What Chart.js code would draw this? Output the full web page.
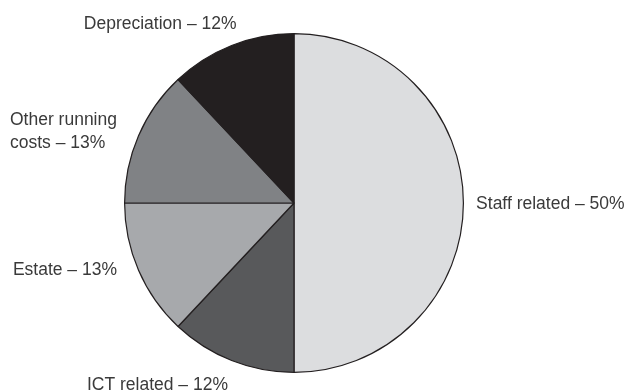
<!DOCTYPE html>
<html>
<head>
<meta charset="utf-8">
<script src="https://cdn.jsdelivr.net/npm/chart.js@4"></script>
<style>
  html, body { margin: 0; padding: 0; background: #fff; }
  #wrap { width: 627px; height: 390px; }
</style>
</head>
<body>
<div id="wrap"><canvas id="myChart" width="627" height="390"></canvas></div>
<script>
// categories, clockwise from 12 o'clock
const categories = ['Staff related', 'ICT related', 'Estate', 'Other running costs', 'Depreciation'];
const shares = [50, 12, 13, 13, 12];
const sliceColors = ['#dcdddf', '#58595b', '#a7a9ac', '#808285', '#231f20'];
// label text as drawn (line breaks as in the original)
const labelLines = [
    ['Staff related – 50%'],
    ['ICT related – 12%'],
    ['Estate – 13%'],
    ['Other running', 'costs – 13%'],
    ['Depreciation – 12%']
];

// where each label sits, relative to pie centre in units of radius
const labelPlace = [
    {x: 1.075, y: 0.0, align: 'left'},
    {x: -0.806, y: 1.065, align: 'center'},
    {x: -1.045, y: 0.385, align: 'right'},
    {x: -1.045, y: -0.43, align: 'left', left: true},
    {x: -0.79, y: -1.065, align: 'center'}
];

const sliceLabels = {
    id: 'sliceLabels',
    afterDatasetsDraw(chart) {
        const ctx = chart.ctx;
        const arcs = chart.getDatasetMeta(0).data;
        ctx.save();
        ctx.font = '17.5px "Liberation Sans", Arial, sans-serif';
        ctx.fillStyle = '#3a3a3a';
        ctx.textBaseline = 'middle';
        arcs.forEach((arc, i) => {
            const p = labelPlace[i];
            const r = arc.outerRadius;
            let x = arc.x + p.x * r;
            let y = arc.y + p.y * r + 1.5;
            const lines = labelLines[i];
            if (p.left) {
                // right edge anchored, text left-aligned under each other
                const w = Math.max(...lines.map(l => ctx.measureText(l).width));
                x = x - w;
            }
            ctx.textAlign = p.align;
            const lh = 23;
            lines.forEach((l, k) => {
                ctx.fillText(l, x, y + (k - (lines.length - 1) / 2) * lh);
            });
        });
        ctx.restore();
    }
};

const ctx = document.getElementById('myChart').getContext('2d');
const myChart = new Chart(ctx, {
    type: 'pie',
    data: {
        labels: categories,
        datasets: [{
            data: shares,
            backgroundColor: sliceColors,
            borderColor: '#231f20',
            borderWidth: 1.2
        }]
    },
    options: {
        responsive: false,
        animation: false,
        layout: {
            padding: {top: 33, bottom: 17, left: 0, right: 39}
        },
        plugins: {
            legend: {display: false},
            tooltip: {enabled: false}
        }
    },
    plugins: [sliceLabels]
});
</script>
</body>
</html>
